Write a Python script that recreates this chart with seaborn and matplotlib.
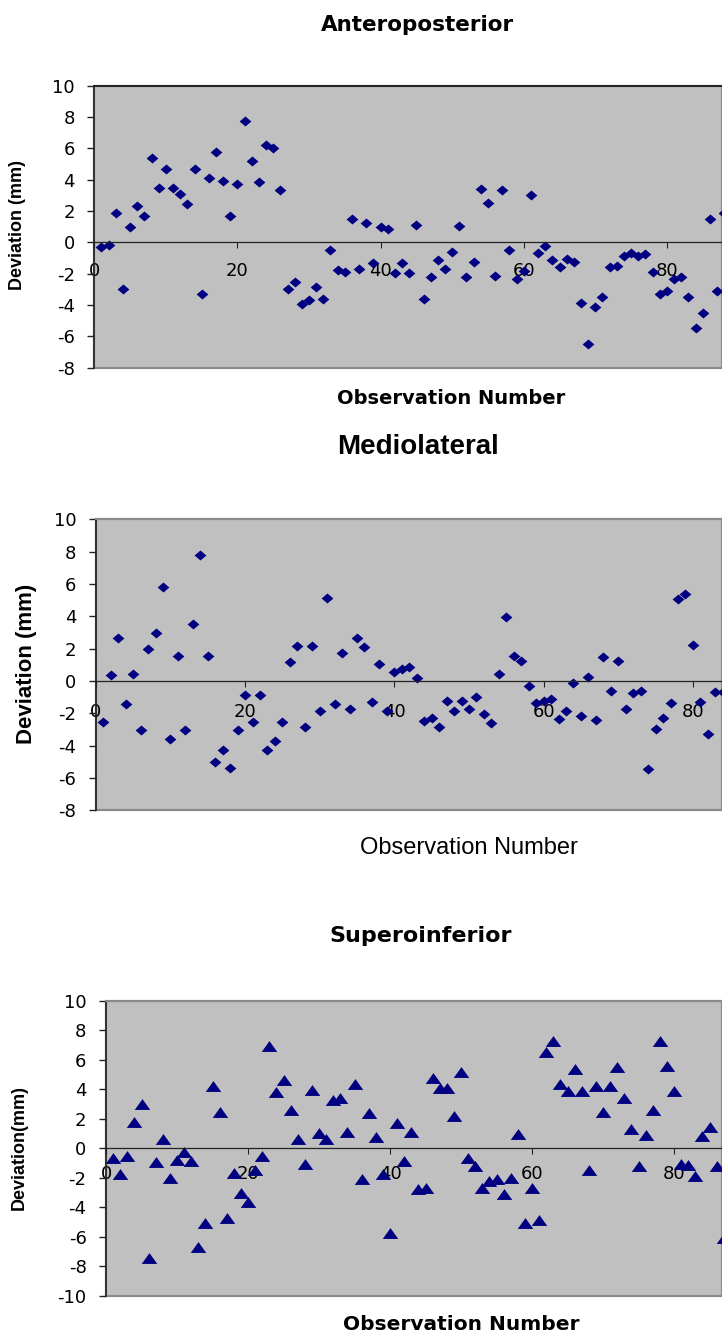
import numpy as np
import matplotlib
matplotlib.use("Agg")
import matplotlib.pyplot as plt
import seaborn as sns

sns.set_style("white")
plt.rcParams["font.family"] = ["DejaVu Sans"]
plt.rcParams["axes.unicode_minus"] = False
plt.rcParams["text.color"] = "black"
plt.rcParams["xtick.color"] = "black"
plt.rcParams["ytick.color"] = "black"

W, H = 722, 1338
NAVY = "#000080"
SILVER = "#C0C0C0"

# ---- data (deviation in mm per observation) ----
ap_dev = [-0.3, -0.15, 1.85, -2.96, 0.96, 2.32, 1.66, 5.38, 3.47, 4.66,
          3.47, 3.1, 2.47, 4.66, -3.32, 4.13, 5.74, 3.94, 1.66, 3.74,
          7.74, 5.21, 3.85, 6.21, 6.02, 3.32, -2.96, -2.51, -3.96, -3.68,
          -2.87, -3.6, -0.51, -1.77, -1.87, 1.49, -1.68, 1.21, -1.3, 0.96,
          0.85, -1.98, -1.3, -1.96, 1.13, -3.6, -2.21, -1.13, -1.68, -0.6,
          1.04, -2.21, -1.23, 3.4, 2.49, -2.13, 3.32, -0.49, -2.36, -1.81,
          3.04, -0.68, -0.21, -1.13, -1.6, -1.04, -1.23, -3.85, -6.49, -4.13,
          -3.49, -1.6, -1.49, -0.85, -0.68, -0.85, -0.77, -1.87, -3.32, -3.13,
          -2.36, -2.21, -3.49, -5.49, -4.49, 1.51, -3.13, 1.9]

ml_dev = [-2.52, 0.35, 2.66, -1.4, 0.45, -3.05, 2.0, 2.97, 5.81, -3.61,
          1.55, -3.05, 3.5, 7.79, 1.55, -5.03, -4.25, -5.36, -3.05, -0.89,
          -2.56, -0.87, -4.27, -3.69, -2.52, 1.2, 2.19, -2.85, 2.19, -1.88,
          5.15, -1.42, 1.75, -1.75, 2.66, 2.1, -1.3, 1.03, -1.84, 0.54,
          0.74, 0.89, 0.21, -2.47, -2.31, -2.85, -1.22, -1.84, -1.22, -1.75,
          -0.97, -2.06, -2.62, 0.45, 3.96, 1.57, 1.22, -0.31, -1.38, -1.26,
          -1.11, -2.35, -1.84, -0.1, -2.19, 0.23, -2.39, 1.46, -0.64, 1.22,
          -1.73, -0.76, -0.64, -5.44, -2.95, -2.31, -1.38, 5.05, 5.38, 2.2,
          -1.3, -3.3, -0.68, -0.65]

si_dev = [-0.63, -1.76, -0.5, 1.8, 3.0, -7.4, -0.95, 0.65, -2.0, -0.77,
          -0.27, -0.84, -6.66, -5.08, 4.2, 2.46, -4.72, -1.65, -3.05, -3.6,
          -1.49, -0.5, 6.95, 3.84, 4.6, 2.6, 0.63, -1.06, 3.95, 1.02,
          0.65, 3.27, 3.39, 1.1, 4.33, -2.1, 2.37, 0.77, -1.76, -5.76,
          1.69, -0.84, 1.1, -2.75, -2.66, 4.79, 4.1, 4.1, 2.17, 5.2,
          -0.63, -1.2, -2.66, -2.19, -2.1, -3.12, -1.99, 0.99, -5.08, -2.66,
          -4.85, 6.5, 7.3, 4.33, 3.88, 5.35, 3.88, -1.49, 4.2, 2.48,
          4.2, 5.49, 3.43, 1.33, -1.17, 0.88, 2.6, 7.3, 5.6, 3.88,
          -1.06, -1.15, -1.85, 0.86, 1.47, -1.17, -6.05]

ap_obs = np.arange(1, len(ap_dev) + 1)
ml_obs = np.arange(1, len(ml_dev) + 1)
si_obs = np.arange(1, len(si_dev) + 1)

x_ticks = [0, 20, 40, 60, 80]

# excel-ish markers: flat diamond and wide triangle
DIAMOND = [(-1, 0), (0, 0.85), (1, 0), (0, -0.85)]
TRIANGLE = [(-1, -0.7), (1, -0.7), (0, 0.7)]

fig = plt.figure(figsize=(W / 100, H / 100), dpi=100)


def make_ax(left, top, bottom, xmax, ylim, yticks, xpad, top_color):
    ax = fig.add_axes([left / W, 1 - bottom / H, 1 - left / W, (bottom - top) / H])
    ax.set_facecolor(SILVER)
    ax.patch.set_edgecolor("#8a8a8a")
    ax.patch.set_linewidth(1.6)
    ax.set_xlim(0, xmax)
    ax.set_ylim(*ylim)
    ax.set_xticks(x_ticks)
    ax.set_yticks(yticks)
    ax.spines["right"].set_visible(False)
    ax.spines["top"].set_color(top_color)
    ax.spines["top"].set_linewidth(1.4)
    ax.spines["left"].set_color("#222222")
    ax.spines["left"].set_linewidth(1.2)
    ax.spines["bottom"].set_position(("data", 0))
    ax.spines["bottom"].set_color("#222222")
    ax.spines["bottom"].set_linewidth(0.9)
    ax.tick_params(axis="y", direction="out", length=5, width=1, pad=9,
                   labelsize=13, left=True, color="#222222", labelcolor="black")
    ax.tick_params(axis="x", direction="out", length=4, width=0.8, pad=xpad,
                   labelsize=13, bottom=True, color="#222222", labelcolor="black")
    return ax


# ---- Anteroposterior ----
ax1 = make_ax(94.3, 85.7, 367.6, 87.7, (-8, 10), range(-8, 11, 2), 10, "#222222")
sns.scatterplot(x=ap_obs, y=ap_dev, ax=ax1, marker=DIAMOND, s=72,
                color=NAVY, edgecolor=NAVY, linewidth=0)
fig.text(417 / W, 1 - 25 / H, "Anteroposterior", ha="center", va="center",
         fontsize=15.5, fontweight="bold")
fig.text(451 / W, 1 - 399 / H, "Observation Number", ha="center", va="center",
         fontsize=14, fontweight="bold")
fig.text(18 / W, 1 - 225 / H, "Deviation (mm)", ha="center", va="center",
         rotation=90, fontsize=13, fontweight="bold", family="Liberation Sans")

# ---- Mediolateral ----
ax2 = make_ax(95.8, 519.3, 810.4, 83.9, (-8, 10), range(-8, 11, 2), 12, "#8a8a8a")
sns.scatterplot(x=ml_obs, y=ml_dev, ax=ax2, marker=DIAMOND, s=72,
                color=NAVY, edgecolor=NAVY, linewidth=0)
fig.text(418 / W, 1 - 447 / H, "Mediolateral", ha="center", va="center",
         fontsize=20, fontweight="bold", family="Liberation Sans")
fig.text(469 / W, 1 - 848 / H, "Observation Number", ha="center", va="center",
         fontsize=17, family="Liberation Sans")
fig.text(27 / W, 1 - 664 / H, "Deviation (mm)", ha="center", va="center",
         rotation=90, fontsize=16, fontweight="bold", family="Liberation Sans")

# ---- Superoinferior ----
ax3 = make_ax(106, 1000.7, 1296, 86.76, (-10, 10), range(-10, 11, 2), 8, "#8a8a8a")
sns.scatterplot(x=si_obs, y=si_dev, ax=ax3, marker=TRIANGLE, s=125,
                color=NAVY, edgecolor=NAVY, linewidth=0)
fig.text(421 / W, 1 - 936 / H, "Superoinferior", ha="center", va="center",
         fontsize=16, fontweight="bold")
fig.text(461 / W, 1 - 1325 / H, "Observation Number", ha="center", va="center",
         fontsize=14.5, fontweight="bold")
fig.text(19 / W, 1 - 1148 / H, "Deviation(mm)", ha="center", va="center",
         rotation=90, fontsize=13, fontweight="bold", family="Liberation Sans")

for ax in (ax1, ax2, ax3):
    ax.set_xlabel("")
    ax.set_ylabel("")

fig.savefig("out.png", dpi=100, facecolor="white")
